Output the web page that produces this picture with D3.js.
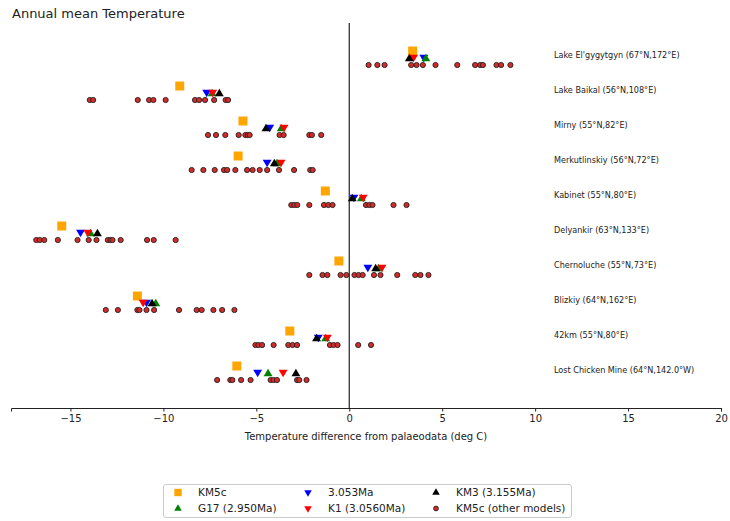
<!DOCTYPE html>
<html>
<head>
<meta charset="utf-8">
<script src="https://cdn.jsdelivr.net/npm/d3@7"></script>
<style>
  body { margin: 0; background: #fff; }
  svg { font-family: "DejaVu Sans", sans-serif; }
</style>
</head>
<body>
<svg id="chart" width="730" height="521"></svg>
<script>
// sites, top to bottom
const sites = [
  "Lake El'gygytgyn (67°N,172°E)",
  "Lake Baikal (56°N,108°E)",
  "Mirny (55°N,82°E)",
  "Merkutlinskiy (56°N,72°E)",
  "Kabinet (55°N,80°E)",
  "Delyankir (63°N,133°E)",
  "Chernoluche (55°N,73°E)",
  "Blizkiy (64°N,162°E)",
  "42km (55°N,80°E)",
  "Lost Chicken Mine (64°N,142.0°W)"
];

const km5c = [3.41, -9.12, -5.72, -5.98, -1.29, -15.47, -0.56, -11.40, -3.20, -6.05];
const ma3053 = [4.01, -7.67, -4.28, -4.42, 0.25, -14.46, 1.00, -10.91, -1.67, -4.93];
const g17 = [4.12, -7.38, -3.66, -3.89, 0.65, -13.92, 1.58, -10.41, -1.27, -4.37];
const k1 = [3.46, -7.35, -3.51, -3.67, 0.75, -14.07, 1.76, -11.09, -1.18, -3.56];
const km3 = [3.23, -6.99, -4.48, -4.03, 0.16, -13.55, 1.42, -10.61, -1.76, -2.87];

const otherModels = [
  [1.04, 1.51, 1.90, 3.33, 3.62, 3.96, 4.64, 5.81, 6.77, 7.04, 7.19, 7.92, 8.17, 8.67],
  [-13.96, -13.78, -11.38, -10.77, -10.54, -9.88, -8.30, -8.08, -7.76, -7.27, -6.65, -6.52],
  [-7.60, -7.17, -6.67, -5.95, -5.59, -5.47, -5.36, -3.75, -3.53, -2.15, -2.01, -1.51],
  [-8.48, -7.85, -7.24, -6.74, -6.57, -6.13, -5.50, -5.20, -4.82, -4.42, -3.78, -2.97, -2.10, -1.97],
  [-3.12, -2.96, -2.80, -2.15, -1.36, -1.13, -0.90, 0.90, 1.08, 1.25, 2.38, 3.08],
  [-16.84, -16.65, -16.41, -15.68, -14.62, -14.02, -13.60, -12.99, -12.85, -12.74, -12.30, -10.88, -10.52, -9.34],
  [-2.15, -1.44, -1.18, -0.47, -0.16, 0.28, 0.50, 0.72, 1.33, 1.68, 2.58, 3.55, 3.83, 4.26],
  [-13.10, -12.45, -11.40, -11.29, -10.91, -10.50, -9.16, -8.21, -7.94, -7.31, -6.84, -6.18],
  [-5.05, -4.89, -4.69, -4.07, -3.28, -3.05, -2.81, -1.04, -0.84, -0.63, 0.48, 1.17],
  [-7.11, -6.40, -6.29, -5.82, -5.31, -4.23, -4.07, -3.89, -2.81, -2.69, -2.30]
];

const xTicks = [-15, -10, -5, 0, 5, 10, 15, 20];

const width = 730;
const height = 521;
const svg = d3.select("#chart");

// site index counted from the bottom (Lost Chicken = 0)
const siteY = (i) => sites.length - 1 - i;

const x = d3.scaleLinear().domain([-18.2, 20]).range([11, 721]);
const y = d3.scaleLinear().domain([-1.1, 9.9]).range([408, 23]);

const sym = {
  square: d3.symbol().type(d3.symbolSquare).size(81),
  up: d3.symbol().type(d3.symbolTriangle).size(34),
  down: d3.symbol().type(d3.symbolTriangle).size(34)
};

// title
svg
  .append("text")
  .attr("x", 12)
  .attr("y", 18)
  .attr("font-size", "13px")
  .attr("fill", "#222")
  .text("Annual mean Temperature");

// zero line
svg
  .append("line")
  .attr("x1", x(0))
  .attr("x2", x(0))
  .attr("y1", y.range()[1])
  .attr("y2", y.range()[0])
  .attr("stroke", "#333")
  .attr("stroke-width", 1.3);

// x axis
const xAxis = svg
  .append("g")
  .attr("transform", `translate(0, ${y.range()[0]})`)
  .call(d3.axisBottom(x).tickValues(xTicks).tickSize(3.5).tickPadding(3).tickFormat((d) => d < 0 ? "\u2212" + Math.abs(d) : d));

xAxis.select(".domain").attr("stroke", "#222").attr("stroke-width", 1);
xAxis.selectAll(".tick line").attr("stroke", "#222");
xAxis.selectAll(".tick text").attr("font-size", "10px").attr("fill", "#222").attr("font-family", "DejaVu Sans");

svg
  .append("text")
  .attr("x", (x.range()[0] + x.range()[1]) / 2)
  .attr("y", 440)
  .attr("text-anchor", "middle")
  .attr("font-size", "10px")
  .attr("fill", "#222")
  .text("Temperature difference from palaeodata (deg C)");

// site labels
svg
  .selectAll(".site-label")
  .data(sites)
  .enter()
  .append("text")
  .attr("class", "site-label")
  .attr("x", 554)
  .attr("y", (d, i) => y(siteY(i)) + 0.8)
  .attr("dy", "0.35em")
  .attr("font-size", "8.1px")
  .attr("fill", "#222")
  .text((d) => d);

// other models
const dots = [];
otherModels.forEach((vals, i) => vals.forEach((v) => dots.push({ i, v })));

svg
  .selectAll("circle.other")
  .data(dots)
  .enter()
  .append("circle")
  .attr("class", "other")
  .attr("cx", (d) => x(d.v))
  .attr("cy", (d) => y(siteY(d.i) - 0.3))
  .attr("r", 2.6)
  .attr("fill", "#d42a2a")
  .attr("stroke", "#222")
  .attr("stroke-width", 0.9);

// main experiments
const series = [
  { name: "KM5c", values: km5c, color: "orange", shape: "square", dy: 0.1 },
  { name: "3.053Ma", values: ma3053, color: "blue", shape: "down", dy: -0.1 },
  { name: "G17 (2.950Ma)", values: g17, color: "green", shape: "up", dy: -0.1 },
  { name: "K1 (3.0560Ma)", values: k1, color: "red", shape: "down", dy: -0.1 },
  { name: "KM3 (3.155Ma)", values: km3, color: "black", shape: "up", dy: -0.1 }
];

const markerTransform = (shape, px, py) =>
  shape === "down" ? `translate(${px},${py}) rotate(180)` : `translate(${px},${py})`;

series.forEach((s) => {
  svg
    .append("g")
    .selectAll("path")
    .data(s.values)
    .enter()
    .append("path")
    .attr("d", sym[s.shape]())
    .attr("transform", (d, i) => markerTransform(s.shape, x(d), y(siteY(i) + s.dy) + (s.shape === "up" ? 0.8 : s.shape === "down" ? -0.8 : 0)))
    .attr("fill", s.color);
});

// legend
const legend = svg.append("g").attr("transform", "translate(163.5, 484.5)");

legend
  .append("rect")
  .attr("width", 408)
  .attr("height", 33)
  .attr("rx", 2.5)
  .attr("fill", "#fff")
  .attr("stroke", "#ccc")
  .attr("stroke-width", 1);

const legendItems = [
  { name: "KM5c", color: "orange", shape: "square" },
  { name: "G17 (2.950Ma)", color: "green", shape: "up" },
  { name: "3.053Ma", color: "blue", shape: "down" },
  { name: "K1 (3.0560Ma)", color: "red", shape: "down" },
  { name: "KM3 (3.155Ma)", color: "black", shape: "up" },
  { name: "KM5c (other models)", color: "#d42a2a", shape: "dot" }
];

const colX = [14.5, 144.5, 272.5];
const rowY = [8, 24];

const item = legend
  .selectAll(".legend-item")
  .data(legendItems)
  .enter()
  .append("g")
  .attr("class", "legend-item")
  .attr("transform", (d, i) => `translate(${colX[Math.floor(i / 2)]}, ${rowY[i % 2]})`);

item.each(function (d) {
  const g = d3.select(this);
  if (d.shape === "dot") {
    g.append("circle").attr("r", 2.4).attr("fill", d.color).attr("stroke", "#222").attr("stroke-width", 0.9);
  } else {
    const size = d.shape === "square" ? 0.82 : 0.85;
    g.append("path")
      .attr("d", sym[d.shape]())
      .attr("transform", (d.shape === "down" ? "rotate(180) " : "") + `scale(${size})`)
      .attr("fill", d.color);
  }
});

item
  .append("text")
  .attr("x", 20)
  .attr("dy", "0.35em")
  .attr("font-size", "10.5px")
  .attr("fill", "#222")
  .text((d) => d.name);
</script>
</body>
</html>
